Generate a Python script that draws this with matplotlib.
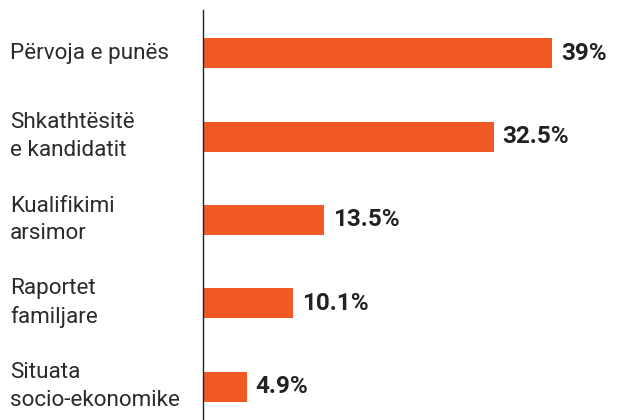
import matplotlib.pyplot as plt
import matplotlib.transforms as mtransforms

categories = [
    "Përvoja e punës",
    "Shkathtësitë\ne kandidatit",
    "Kualifikimi\narsimor",
    "Raportet\nfamiljare",
    "Situata\nsocio-ekonomike",
]
values = [39, 32.5, 13.5, 10.1, 4.9]
value_labels = ["39%", "32.5%", "13.5%", "10.1%", "4.9%"]

ORANGE = "#F15A24"

fig = plt.figure(figsize=(6.18, 4.2), dpi=100)
ax = fig.add_axes([203 / 618, 0, 415 / 618, 410 / 420])

pos = list(range(len(categories)))
ax.barh(pos, values, height=0.36, color=ORANGE)

ax.set_xlim(0, 46.4)
ax.set_ylim(4.4, -0.52)

for side in ("top", "right", "bottom"):
    ax.spines[side].set_visible(False)
ax.spines["left"].set_linewidth(1.0)
ax.spines["left"].set_color("#222222")
ax.set_xticks([])
ax.set_yticks([])

# category names sit at the left edge of the figure
trans = mtransforms.blended_transform_factory(fig.transFigure, ax.transData)
for p, name in zip(pos, categories):
    ax.text(10 / 618, p, name, transform=trans, ha="left", va="center",
            fontsize=16.2, family="Roboto", color="#2b2b2b", linespacing=1.4)

for p, v, lab in zip(pos, values, value_labels):
    ax.text(v + 1.0, p, lab, ha="left", va="center", fontsize=17.5,
            family="Roboto", fontweight="bold", color="#222222")

fig.savefig("out.png", dpi=100)
